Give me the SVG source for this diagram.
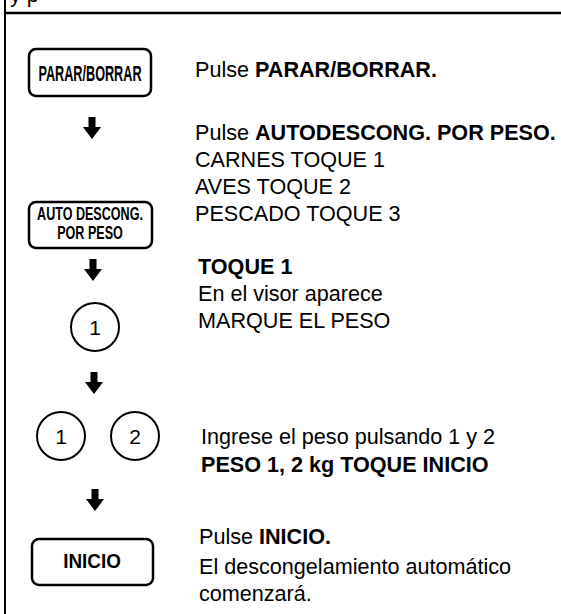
<svg xmlns="http://www.w3.org/2000/svg" xmlns:xlink="http://www.w3.org/1999/xlink" width="561" height="614" viewBox="0 0 561 614">
<style>
.t{font-family:"Liberation Sans",Arial,sans-serif;font-size:21.6px;fill:#000}
.b{font-weight:bold}
.btn{fill:#fff;stroke:#000;stroke-width:2.5}
.key{fill:#fff;stroke:#000;stroke-width:2}
.bt{font-family:"Liberation Sans",Arial,sans-serif;font-weight:bold;fill:#000;text-anchor:middle}
.kt{font-family:"Liberation Sans",Arial,sans-serif;font-size:21px;fill:#000;text-anchor:middle}
</style>
<defs>
<path id="arr" d="M-3.5,0 h7 v10 h5.5 l-9,12 l-9,-12 h5.5 z" fill="#000"/>
</defs>
<rect width="561" height="614" fill="#fff"/>
<g id="frame">
<line x1="5" y1="0" x2="5" y2="614" stroke="#000" stroke-width="2"/>
<line x1="4" y1="13" x2="561" y2="13" stroke="#000" stroke-width="2.5"/>
<text class="t" x="10" y="1.5">y p</text>
</g>
<g id="connectors">
<use xlink:href="#arr" x="92" y="117"/>
<use xlink:href="#arr" x="93" y="259"/>
<use xlink:href="#arr" x="94" y="372"/>
<use xlink:href="#arr" x="95" y="489"/>
</g>
<g id="step1">
<rect class="btn" x="29" y="49" width="122" height="47" rx="7"/>
<text class="bt" font-size="22" transform="translate(90,81) scale(0.575,1)">PARAR/BORRAR</text>
<text class="t" x="195" y="77">Pulse</text>
<text class="t b" x="255" y="77">PARAR/BORRAR.</text>
</g>
<g id="step2">
<rect class="btn" x="29" y="202" width="123" height="46" rx="7"/>
<text class="bt" font-size="18.5" transform="translate(90,219.5) scale(0.68,1)">AUTO DESCONG.</text>
<text class="bt" font-size="18.5" transform="translate(90,239) scale(0.68,1)">POR PESO</text>
<text class="t" x="195" y="140">Pulse</text>
<text class="t b" x="255" y="140">AUTODESCONG. POR PESO.</text>
<text class="t" x="195" y="167">CARNES TOQUE 1</text>
<text class="t" x="195" y="194">AVES TOQUE 2</text>
<text class="t" x="195" y="221">PESCADO TOQUE 3</text>
</g>
<g id="step3">
<circle class="key" cx="95" cy="327" r="24"/>
<text class="kt" x="95" y="335">1</text>
<text class="t b" x="198" y="274">TOQUE 1</text>
<text class="t" x="198" y="301">En el visor aparece</text>
<text class="t" x="198" y="328">MARQUE EL PESO</text>
</g>
<g id="step4">
<circle class="key" cx="61" cy="436" r="24"/>
<text class="kt" x="61" y="444">1</text>
<circle class="key" cx="135" cy="436" r="24"/>
<text class="kt" x="135" y="444">2</text>
<text class="t" x="201" y="444">Ingrese el peso pulsando 1 y 2</text>
<text class="t b" x="201" y="472">PESO 1, 2 kg TOQUE INICIO</text>
</g>
<g id="step5">
<rect class="btn" x="32" y="539" width="121" height="46" rx="7"/>
<text class="bt" font-size="20.5" transform="translate(92,568) scale(0.92,1)">INICIO</text>
<text class="t" x="199" y="544">Pulse</text>
<text class="t b" x="259" y="544">INICIO.</text>
<text class="t" x="199" y="574">El descongelamiento automático</text>
<text class="t" x="199" y="601">comenzará.</text>
</g>
</svg>
